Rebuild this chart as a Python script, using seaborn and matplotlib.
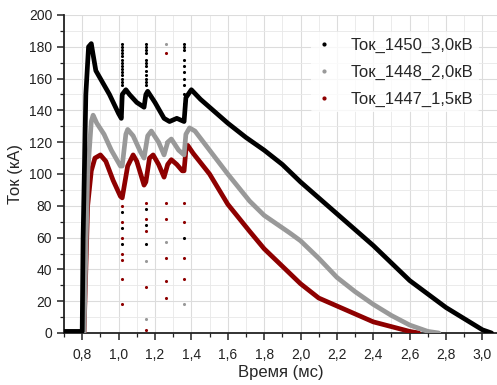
import numpy as np
import pandas as pd
import seaborn as sns
import matplotlib
matplotlib.use("Agg")
import matplotlib.pyplot as plt
from matplotlib.lines import Line2D
from matplotlib.ticker import MultipleLocator, FuncFormatter

sns.set_style("white")
plt.rcParams['font.family'] = ['Liberation Sans', 'DejaVu Sans']

# ---- data ----
labels = ["Ток_1450_3,0кВ", "Ток_1448_2,0кВ", "Ток_1447_1,5кВ"]
colors = ["#000000", "#999999", "#8e0000"]

t_1450 = [0.70, 0.80, 0.805, 0.82, 0.835, 0.85, 0.86, 0.875, 0.90, 0.95, 1.00, 1.015, 1.02, 1.04, 1.06, 1.10, 1.14,
          1.15, 1.16, 1.20, 1.25, 1.28, 1.32, 1.36, 1.37, 1.40, 1.45, 1.50, 1.60, 1.70, 1.80, 1.90, 2.00, 2.20,
          2.40, 2.60, 2.80, 2.90, 3.00, 3.05]
v_1450 = [1, 1, 60, 150, 180, 182, 175, 165, 160, 150, 138, 135, 150, 153, 150, 145, 142,
          150, 152, 145, 135, 133, 135, 133, 148, 153, 147, 142, 132, 123, 115, 106, 95, 75,
          55, 33, 16, 9, 2, 0]

t_1448 = [0.81, 0.83, 0.85, 0.86, 0.88, 0.92, 0.96, 1.01, 1.02, 1.04, 1.05, 1.08, 1.12, 1.14, 1.16, 1.18, 1.22,
          1.25, 1.27, 1.29, 1.33, 1.36, 1.37, 1.39, 1.42, 1.50, 1.60, 1.72, 1.80, 1.94, 2.00, 2.10, 2.20,
          2.30, 2.40, 2.50, 2.60, 2.70, 2.76]
v_1448 = [0, 100, 133, 137, 132, 125, 115, 105, 105, 125, 128, 124, 114, 110, 124, 127, 120,
          112, 120, 122, 115, 112, 125, 129, 127, 115, 100, 83, 74, 63, 58, 47, 35,
          26, 18, 11, 5, 1, 0]

t_1447 = [0.81, 0.83, 0.85, 0.87, 0.90, 0.93, 0.97, 1.01, 1.02, 1.05, 1.08, 1.10, 1.14, 1.15, 1.17, 1.19, 1.22,
          1.25, 1.27, 1.29, 1.32, 1.35, 1.36, 1.37, 1.38, 1.41, 1.50, 1.60, 1.72, 1.80, 2.00, 2.10, 2.20,
          2.30, 2.40, 2.50, 2.60, 2.65]
v_1447 = [0, 80, 102, 110, 112, 108, 96, 86, 85, 105, 112, 108, 93, 95, 110, 112, 106,
          98, 106, 109, 106, 102, 102, 115, 118, 113, 100, 81, 64, 53, 31, 22, 17,
          12, 7, 4, 1, 0]

# scattered spike dots
spike_t = [1.02] * 24 + [1.15] * 22 + [1.26] * 9 + [1.36] * 16
spike_v = ([182, 180, 178, 176, 174, 172, 170, 168, 166, 164, 162, 160, 158, 156,
            80, 76, 70, 66, 60, 56, 50, 46, 34, 18] +
           [182, 180, 178, 176, 172, 170, 168, 165, 162, 160, 158, 156,
            82, 78, 72, 68, 64, 56, 45, 29, 9, 2] +
           [182, 176, 120, 82, 72, 57, 47, 33, 22] +
           [182, 180, 178, 172, 168, 164, 160, 156, 150, 144, 82, 70, 60, 47, 34, 18])
spike_s = ([0] * 14 + [2, 0, 2, 0, 2, 0, 2, 2, 2, 2] +
           [0] * 12 + [2, 0, 2, 0, 2, 0, 1, 2, 1, 2] +
           [1, 2, 1, 2, 2, 1, 2, 2, 2] +
           [0] * 10 + [2, 2, 0, 2, 2, 1])

x_ticks = [0.8, 1.0, 1.2, 1.4, 1.6, 1.8, 2.0, 2.2, 2.4, 2.6, 2.8, 3.0]
y_ticks = [0, 20, 40, 60, 80, 100, 120, 140, 160, 180, 200]

# ---- figure ----
fig = plt.figure(figsize=(4.97, 3.85), dpi=100)
ax = fig.add_axes([64 / 497, 52 / 385, 1 - 64 / 497, (333 - 15) / 385])

series = [(t_1447, v_1447), (t_1448, v_1448), (t_1450, v_1450)]
order = [2, 1, 0]
for (tt, vv), i in zip(series, order):
    df = pd.DataFrame({"t": tt, "v": vv})
    sns.lineplot(data=df, x="t", y="v", ax=ax, color=colors[i], linewidth=3.4,
                 estimator=None, sort=False, legend=False, zorder=3 + (2 - i))

sp = pd.DataFrame({"t": spike_t, "v": spike_v, "s": spike_s})
for i in range(3):
    sub = sp[sp["s"] == i]
    sns.scatterplot(data=sub, x="t", y="v", ax=ax, color=colors[i], s=5,
                    linewidth=0, legend=False, zorder=6)

ax.set_xlim(0.70, 3.08)
ax.set_ylim(0, 200)
ax.set_xticks(x_ticks)
ax.set_yticks(y_ticks)
ax.xaxis.set_minor_locator(MultipleLocator(0.1))
ax.yaxis.set_minor_locator(MultipleLocator(10))
ax.xaxis.set_major_formatter(FuncFormatter(lambda x, p: f"{x:.1f}".replace(".", ",")))
ax.grid(which="major", color="#dcdcdc", linewidth=0.8)
ax.grid(which="minor", color="#e8e8e8", linewidth=0.6)
ax.set_axisbelow(True)

for s in ["top", "right"]:
    ax.spines[s].set_visible(False)
for s in ["left", "bottom"]:
    ax.spines[s].set_color("#222222")
    ax.spines[s].set_linewidth(1.3)

ax.tick_params(axis="both", which="major", direction="out", length=5, width=1.1,
               labelsize=10, colors="#222222", left=True, bottom=True)
ax.tick_params(axis="x", which="major", pad=6)
ax.tick_params(axis="both", which="minor", direction="out", length=3, width=0.9,
               left=True, bottom=True, colors="#222222")

ax.set_xlabel("Время (мс)", fontsize=12, labelpad=2)
ax.set_ylabel("Ток (кА)", fontsize=12, labelpad=4)

handles = [Line2D([], [], linestyle="none", marker="o", markersize=2, color=c) for c in colors]
leg = ax.legend(handles, labels, loc="upper left", bbox_to_anchor=(0.57, 0.945), frameon=True,
                fontsize=12, labelspacing=0.72, handlelength=1.0, handletextpad=1.1,
                borderaxespad=0.0, borderpad=0.3)
leg.get_frame().set_facecolor("white")
leg.get_frame().set_edgecolor("none")

fig.savefig("out.png", dpi=100)
